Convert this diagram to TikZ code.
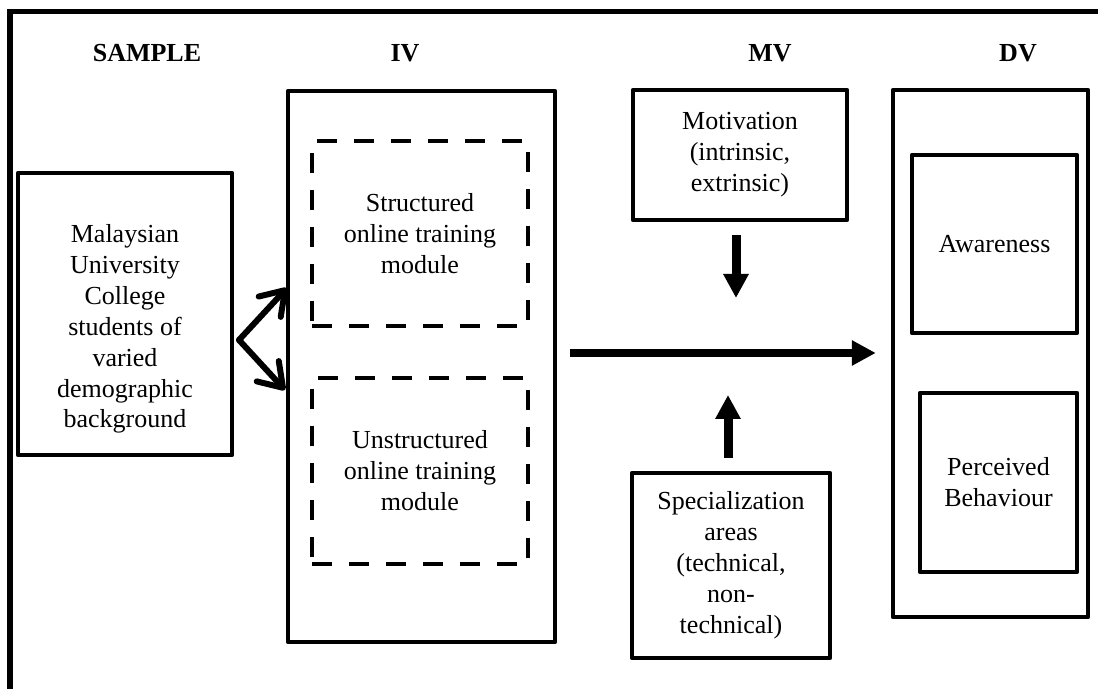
\documentclass[tikz,border=0pt]{standalone}
\usepackage{fontspec}
\setmainfont{Liberation Serif}
\usetikzlibrary{arrows.meta}

\tikzset{
  plainbox/.style={draw,line width=0.09cm,line join=round,align=center,
    font=\fontsize{14.8pt}{17.6pt}\selectfont},
  dashedbox/.style={plainbox,dash pattern=on 0.4cm off 0.34cm},
  heading/.style={font=\fontsize{14.8pt}{17.6pt}\selectfont\bfseries},
  flow/.style={line width=0.17cm,-{Triangle[length=0.48cm,width=0.48cm]}},
  fork/.style={line width=0.12cm,line cap=round,line join=round,
    -{Straight Barb[length=0.45cm,width=0.6cm,line cap=round,line join=round]}}
}

\begin{document}
\begin{tikzpicture}

\useasboundingbox (0,0) rectangle (21.96,13.78);
\draw[line width=0.1cm] (0.2,0) -- (0.2,13.54) -- (21.96,13.54);

\foreach \n/\x/\t in {samplelbl/2.94/SAMPLE,ivlbl/8.1/IV,mvlbl/15.4/MV,dvlbl/20.36/DV}
{\node[heading] (\n) at (\x,12.72) {\t};}

\node[plainbox,minimum width=4.28cm,minimum height=5.64cm] (sample) at (2.5,7.5) {};
\node[align=center,font=\fontsize{14.8pt}{17.6pt}\selectfont] (sampletext) at (2.5,7.2)
  {Malaysian\\University\\College\\students of\\varied\\demographic\\background};

\node[plainbox,minimum width=5.34cm,minimum height=11.02cm] (ivbox) at (8.43,6.45) {};
\node[dashedbox,minimum width=4.32cm,minimum height=3.7cm] (structured) at (8.4,9.11)
  {Structured\\online training\\module};
\node[dashedbox,minimum width=4.32cm,minimum height=3.72cm] (unstructured) at (8.4,4.36)
  {Unstructured\\online training\\module};

\node[plainbox,minimum width=4.28cm,minimum height=2.6cm] (motiv) at (14.8,10.68)
  {Motivation\\(intrinsic,\\extrinsic)};
\node[plainbox,minimum width=3.96cm,minimum height=3.7cm] (special) at (14.62,2.47)
  {Specialization\\areas\\(technical,\\non-\\technical)};

\node[plainbox,minimum width=3.9cm,minimum height=10.54cm] (dvbox) at (19.81,6.71) {};
\node[plainbox,minimum width=3.3cm,minimum height=3.56cm] (aware) at (19.89,8.9) {Awareness};
\node[plainbox,minimum width=3.14cm,minimum height=3.58cm] (behave) at (19.97,4.13)
  {Perceived\\Behaviour};

\coordinate (split) at (4.78,6.98);
\coordinate (uptip) at (5.74,8.02);
\coordinate (downtip) at (5.7,5.98);
\draw[fork] (split) -- (uptip);
\draw[fork] (split) -- (downtip);

\coordinate (mvtip) at (14.72,7.82);
\coordinate (smtip) at (14.56,5.88);
\draw[flow,line width=0.18cm,shorten <=0.26cm] (motiv.south -| mvtip) -- (mvtip);
\draw[flow,line width=0.18cm,shorten <=0.26cm] (special.north -| smtip) -- (smtip);

\coordinate (ivout) at (11.4,6.72);
\draw[flow] (ivout) -- (dvbox.west |- ivout) [shorten >=0.3cm];

\end{tikzpicture}
\end{document}
